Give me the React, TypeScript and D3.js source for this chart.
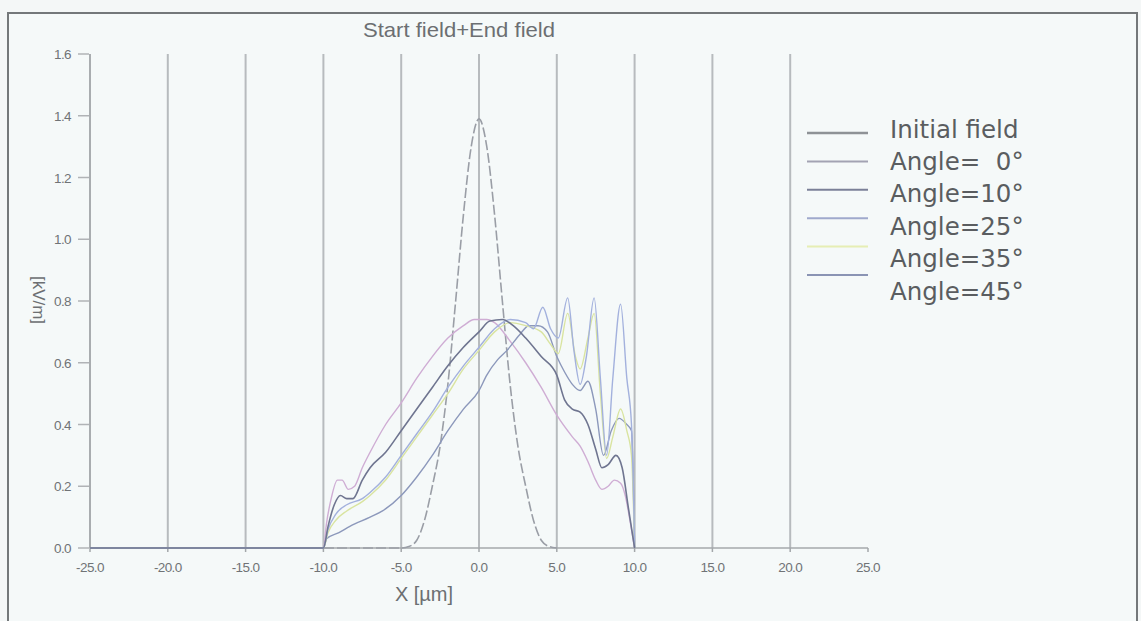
import React from 'react';
import * as d3 from 'd3';

const W = 1141;
const H = 621;

const xTicks = [-25, -20, -15, -10, -5, 0, 5, 10, 15, 20, 25];
const yTicks = [0, 0.2, 0.4, 0.6, 0.8, 1.0, 1.2, 1.4, 1.6];
const gridX = [-20, -15, -10, -5, 0, 5, 10, 15, 20];

type P = [number, number];

const initialField: P[] = [
  [-25, 0], [-5, 0], [-4.5, 0.005], [-4, 0.025], [-3.5, 0.09], [-3, 0.2], [-2.5, 0.33], [-2, 0.53],
  [-1.5, 0.8], [-1, 1.08], [-0.5, 1.3], [0, 1.39], [0.5, 1.3], [1, 1.08], [1.5, 0.8], [2, 0.53],
  [2.5, 0.33], [3, 0.2], [3.5, 0.09], [4, 0.025], [4.5, 0.005], [5, 0],
];

const angle0: P[] = [
  [-25, 0], [-10, 0], [-9.8, 0.08], [-9.5, 0.16], [-9.1, 0.22], [-8.8, 0.22], [-8.4, 0.19], [-8.0, 0.2],
  [-7.5, 0.26], [-7, 0.31], [-6, 0.4], [-5, 0.47], [-4, 0.55], [-3, 0.62], [-2, 0.68], [-1, 0.72],
  [-0.3, 0.74], [0.5, 0.74], [1, 0.73], [2, 0.67], [3, 0.6], [4, 0.52], [5, 0.43], [6, 0.36],
  [6.5, 0.33], [7, 0.28], [7.5, 0.22], [7.9, 0.19], [8.3, 0.2], [8.7, 0.22], [9.1, 0.21], [9.4, 0.17],
  [9.7, 0.09], [10, 0],
];

const angle10: P[] = [
  [-25, 0], [-10, 0], [-9.7, 0.07], [-9.3, 0.14], [-8.9, 0.17], [-8.5, 0.16], [-8.1, 0.16], [-7.5, 0.22],
  [-7, 0.26], [-6, 0.31], [-5, 0.38], [-4, 0.45], [-3, 0.52], [-2, 0.59], [-1, 0.65], [0, 0.7],
  [0.7, 0.735], [1.5, 0.74], [2.2, 0.72], [3, 0.68], [4, 0.62], [5, 0.56], [5.5, 0.48], [6, 0.45],
  [6.5, 0.44], [7, 0.4], [7.5, 0.32], [7.9, 0.26], [8.3, 0.27], [8.8, 0.3], [9.2, 0.26], [9.6, 0.13],
  [10, 0],
];

const angle25: P[] = [
  [-25, 0], [-10, 0], [-9.7, 0.06], [-9.2, 0.11], [-8.5, 0.14], [-7.5, 0.16], [-7, 0.18], [-6, 0.23],
  [-5, 0.3], [-4, 0.37], [-3, 0.44], [-2, 0.52], [-1, 0.59], [0, 0.65], [1, 0.71], [2, 0.74],
  [3, 0.73], [3.5, 0.71], [4.1, 0.78], [4.6, 0.71], [5.1, 0.68], [5.7, 0.81], [6.1, 0.64], [6.5, 0.53],
  [6.9, 0.62], [7.4, 0.81], [7.8, 0.55], [8.2, 0.3], [8.6, 0.55], [9.1, 0.79], [9.5, 0.55], [9.8, 0.4],
  [10, 0],
];

const angle35: P[] = [
  [-25, 0], [-10, 0], [-9.7, 0.05], [-9.2, 0.09], [-8.5, 0.12], [-7.5, 0.15], [-7, 0.17], [-6, 0.22],
  [-5, 0.29], [-4, 0.36], [-3, 0.43], [-2, 0.5], [-1, 0.58], [0, 0.64], [1, 0.7], [2, 0.73],
  [3, 0.72], [4, 0.7], [4.6, 0.66], [5.1, 0.63], [5.7, 0.76], [6.2, 0.62], [6.5, 0.58], [7, 0.68],
  [7.4, 0.76], [7.8, 0.5], [8.2, 0.29], [8.6, 0.36], [9.1, 0.45], [9.5, 0.38], [9.8, 0.3], [10, 0],
];

const angle45: P[] = [
  [-25, 0], [-10, 0], [-9.8, 0.03], [-9, 0.05], [-8.3, 0.07], [-7, 0.1], [-6.2, 0.12], [-5, 0.17],
  [-4, 0.23], [-3, 0.3], [-2, 0.38], [-1, 0.45], [0, 0.51], [0.5, 0.56], [1.2, 0.61], [1.8, 0.64],
  [2.6, 0.69], [3.2, 0.72], [3.8, 0.72], [4.4, 0.7], [5, 0.62], [5.5, 0.57], [6, 0.53], [6.5, 0.51],
  [7, 0.54], [7.5, 0.45], [8, 0.3], [8.5, 0.38], [9, 0.42], [9.5, 0.4], [9.8, 0.38], [10, 0],
];

const legendNames = ['Initial field', 'Angle=\u00a0\u00a00°', 'Angle=10°', 'Angle=25°', 'Angle=35°', 'Angle=45°'];
const legendColors = ['#8e9296', '#a3a3b3', '#7b8098', '#9fa9cc', '#e6eeb4', '#8a94b4'];

const seriesList = [
  { data: initialField, color: '#9a9ea6', width: 1.6, dash: '10 3' },
  { data: angle0, color: '#cfadd4', width: 1.4, dash: '' },
  { data: angle45, color: '#8c98bb', width: 1.4, dash: '' },
  { data: angle35, color: '#d9e4a0', width: 1.4, dash: '' },
  { data: angle25, color: '#a3b1dd', width: 1.4, dash: '' },
  { data: angle10, color: '#6f7590', width: 1.6, dash: '' },
];

export default function App() {
  const x = d3.scaleLinear().domain([-25, 25]).range([90, 868]);
  const y = d3.scaleLinear().domain([0, 1.6]).range([548, 54]);
  const line = d3
    .line<P>()
    .x((d) => x(d[0]))
    .y((d) => y(d[1]))
    .curve(d3.curveMonotoneX);

  const legendLineY = d3.scaleLinear().domain([0, 5]).range([133, 275]);
  const legendTextY = d3.scaleLinear().domain([0, 5]).range([129, 291]);

  return (
    <svg
      width={W}
      height={H}
      style={{ position: 'absolute', left: 0, top: 0, background: '#f4f7f7' }}
    >
      <rect x={0} y={0} width={W} height={H} fill="#f4f7f7" />
      <rect x={8} y={13} width={1129} height={640} fill="#f5f9f9" stroke="#74787a" strokeWidth={2} />

      <text
        x={459}
        y={37}
        textAnchor="middle"
        fontFamily="'Liberation Sans', Arial, sans-serif"
        fontSize={21}
        fill="#6c6f72"
        textLength={192}
        lengthAdjust="spacingAndGlyphs"
      >
        Start field+End field
      </text>

      {gridX.map((g) => (
        <line key={g} x1={x(g)} x2={x(g)} y1={y(1.6)} y2={y(0)} stroke="#b7bbbe" strokeWidth={2} />
      ))}

      <line x1={x(-25)} x2={x(-25)} y1={y(1.6)} y2={y(0)} stroke="#a9adb0" strokeWidth={2} />
      {yTicks.map((t) => (
        <g key={t}>
          <line x1={78} x2={89} y1={y(t)} y2={y(t)} stroke="#b0b3b6" strokeWidth={1.5} />
          <text
            x={71}
            y={y(t) + 5}
            textAnchor="end"
            fontFamily="'Liberation Sans', Arial, sans-serif"
            fontSize={13.5}
            letterSpacing={-0.6}
            fill="#707376"
          >
            {t.toFixed(1)}
          </text>
        </g>
      ))}

      <line x1={x(-25)} x2={x(25)} y1={y(0)} y2={y(0)} stroke="#a4a8ab" strokeWidth={1.6} />
      {xTicks.map((t) => (
        <g key={t}>
          <line x1={x(t)} x2={x(t)} y1={y(0)} y2={y(0) + 4} stroke="#a3a7aa" strokeWidth={1.5} />
          <text
            x={x(t)}
            y={y(0) + 24}
            textAnchor="middle"
            fontFamily="'Liberation Sans', Arial, sans-serif"
            fontSize={13.5}
            letterSpacing={-0.6}
            fill="#707376"
          >
            {t.toFixed(1)}
          </text>
        </g>
      ))}

      {seriesList.map((s, i) => (
        <path
          key={i}
          d={line(s.data) || ''}
          fill="none"
          stroke={s.color}
          strokeWidth={s.width}
          strokeDasharray={s.dash || undefined}
        />
      ))}

      <text
        x={424}
        y={601}
        textAnchor="middle"
        fontFamily="'Liberation Sans', Arial, sans-serif"
        fontSize={20}
        fill="#6c6f72"
      >
        X [µm]
      </text>
      <text
        transform={`translate(33,300) rotate(90)`}
        textAnchor="middle"
        fontFamily="'Liberation Sans', Arial, sans-serif"
        fontSize={17}
        fill="#6c6f72"
      >
        [kV/m]
      </text>

      {legendNames.map((n, i) => (
        <g key={n}>
          <line
            x1={807}
            x2={868}
            y1={legendLineY(i)}
            y2={legendLineY(i)}
            stroke={legendColors[i]}
            strokeWidth={i === 0 ? 2.5 : 2}
          />
          <text
            x={890}
            y={legendTextY(i) + 8.5}
            fontFamily="'DejaVu Sans', Verdana, sans-serif"
            fontSize={24.5}
            fill="#5a5d60"
          >
            {n}
          </text>
        </g>
      ))}
    </svg>
  );
}
